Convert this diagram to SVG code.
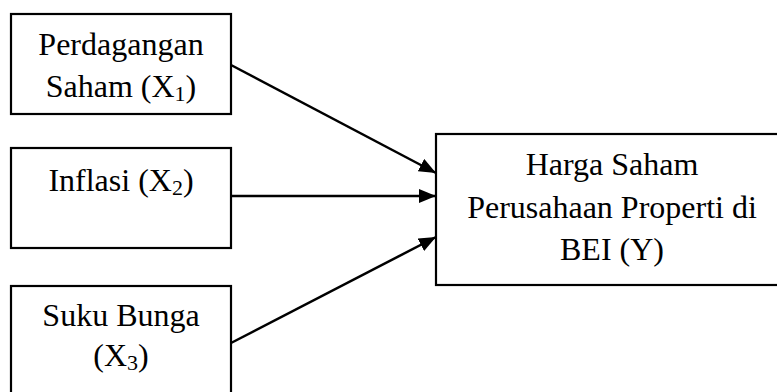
<svg xmlns="http://www.w3.org/2000/svg" width="777" height="392" viewBox="0 0 777 392">
<style>
.box{fill:#fff;stroke:#000;stroke-width:2.2}
.t{font-family:"Liberation Serif","Times New Roman",serif;font-size:32px;fill:#000;text-anchor:middle}
.sub{font-size:22px}
.c{stroke:#000;stroke-width:2.5;fill:none}
</style>
<defs>
<marker id="ah" markerUnits="userSpaceOnUse" markerWidth="17" markerHeight="14" refX="17" refY="7" orient="auto">
<path d="M0,0 L17,7 L0,14 Z" fill="#000"/>
</marker>
</defs>
<rect width="777" height="392" fill="#fff"/>
<g id="connectors">
<line class="c" x1="231" y1="65" x2="436" y2="173" marker-end="url(#ah)"/>
<line class="c" x1="231" y1="196" x2="436" y2="196" marker-end="url(#ah)"/>
<line class="c" x1="231" y1="343" x2="436" y2="237" marker-end="url(#ah)"/>
</g>
<g id="x1">
<rect class="box" x="11" y="14" width="220" height="100"/>
<text class="t" x="121" y="55">Perdagangan</text>
<text class="t" x="121" y="97">Saham (X<tspan class="sub" dy="4">1</tspan><tspan dy="-4">)</tspan></text>
</g>
<g id="x2">
<rect class="box" x="11" y="148" width="220" height="100"/>
<text class="t" x="121" y="191">Inflasi (X<tspan class="sub" dy="4">2</tspan><tspan dy="-4">)</tspan></text>
</g>
<g id="x3">
<rect class="box" x="11" y="286" width="220" height="120"/>
<text class="t" x="121" y="326">Suku Bunga</text>
<text class="t" x="121" y="366">(X<tspan class="sub" dy="4">3</tspan><tspan dy="-4">)</tspan></text>
</g>
<g id="y">
<rect class="box" x="436" y="134" width="360" height="151"/>
<text class="t" x="612" y="175">Harga Saham</text>
<text class="t" x="612" y="218">Perusahaan Properti di</text>
<text class="t" x="612" y="260">BEI (Y)</text>
</g>
</svg>
